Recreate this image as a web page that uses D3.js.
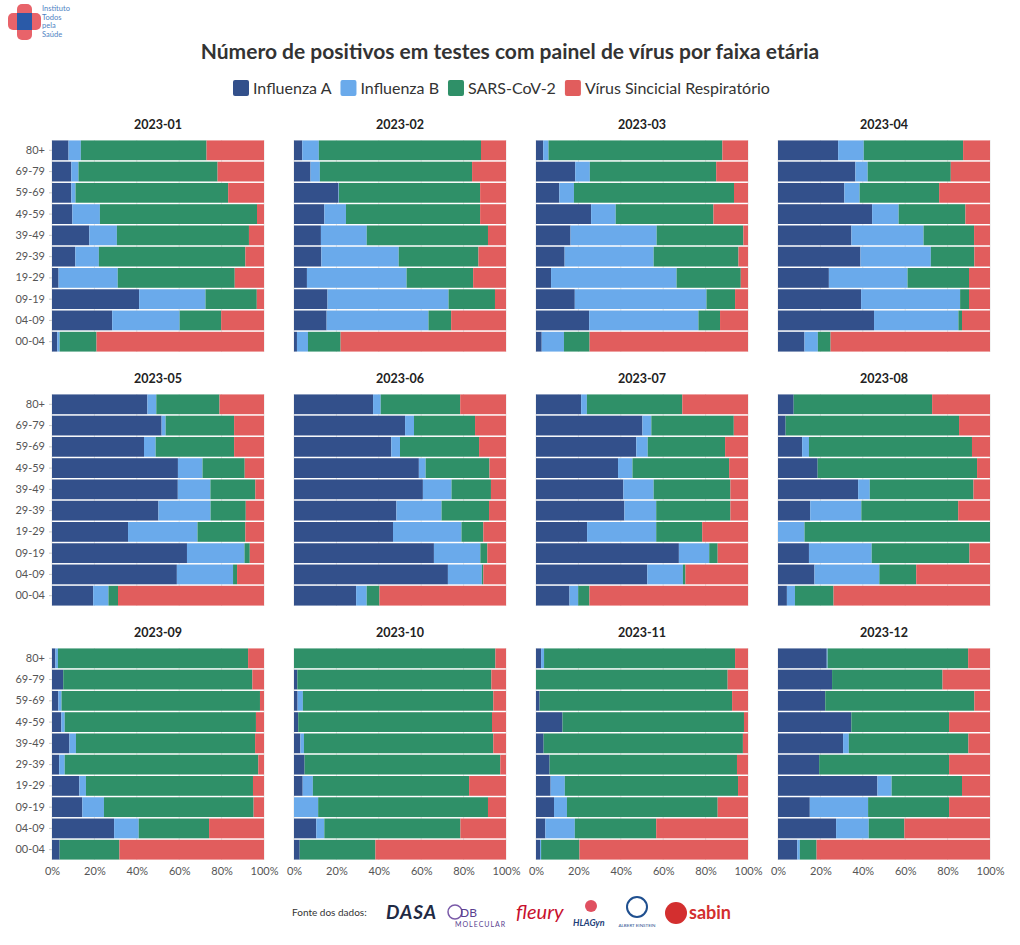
<!DOCTYPE html>
<html><head><meta charset="utf-8">
<script src="https://cdn.jsdelivr.net/npm/d3@7"></script>
<style>
body{margin:0;background:#fff;}
svg{display:block;font-family:Lato,"Noto Sans",sans-serif;}
</style></head><body>
<svg id="c" width="1020" height="945"></svg>
<script>
const months = ["2023-01","2023-02","2023-03","2023-04","2023-05","2023-06","2023-07","2023-08","2023-09","2023-10","2023-11","2023-12"];
const ages = ["80+","69-79","59-69","49-59","39-49","29-39","19-29","09-19","04-09","00-04"];
const seriesNames = ["Influenza A","Influenza B","SARS-CoV-2","Vírus Sincicial Respiratório"];
const colors = ["#33508b","#6aaaeb","#2f9068","#e15d5d"];
const xTicks = [0,20,40,60,80,100];

// percentages per month, ages in order above
const fluA = [
 [7.8,9.1,9.1,9.6,17.6,11.0,3.1,41.1,28.4,2.5],
 [3.9,7.8,21.0,14.3,12.7,12.9,6.1,15.8,15.4,1.4],
 [3.4,18.5,11.0,26.0,16.3,13.5,7.1,18.3,25.1,2.7],
 [28.4,36.5,31.3,44.4,34.6,38.9,24.0,39.2,45.3,12.5],
 [45.0,51.7,43.4,59.4,59.4,50.2,35.9,63.6,58.9,19.4],
 [37.3,52.4,45.9,58.9,60.8,48.3,46.7,66.0,72.6,29.3],
 [21.3,50.2,47.3,38.7,41.2,41.7,24.1,67.4,52.5,15.8],
 [7.4,3.6,11.4,18.7,37.8,15.2,0,14.6,17.2,4.2],
 [1.6,5.3,3.0,4.4,8.2,3.4,12.9,14.3,29.3,3.6],
 [0,1.6,1.7,2.0,3.0,5.0,4.1,0,10.5,2.7],
 [2.4,0,1.7,12.5,3.6,6.4,6.9,8.5,4.4,1.9],
 [23.0,25.5,22.3,34.6,30.7,19.4,46.9,15.0,27.4,9.1]
];
const fluB = [
 [5.8,3.4,2.0,13.0,13.0,11.1,27.9,31.3,31.8,1.1],
 [7.8,4.4,0.2,10.2,21.6,36.5,47.0,57.1,48.1,5.2],
 [2.5,6.9,6.9,11.6,40.6,42.0,59.2,62.1,51.6,10.5],
 [12.1,5.8,7.2,12.5,34.0,33.2,37.1,46.7,39.8,6.3],
 [4.2,1.9,5.5,11.6,15.4,24.6,32.8,27.1,26.5,7.2],
 [3.6,4.2,4.1,3.2,13.5,21.3,32.3,21.9,16.0,5.0],
 [2.7,4.2,5.4,6.8,14.3,15.0,32.6,14.3,16.8,4.1],
 [0,0,3.2,0,5.5,24.1,12.5,29.6,30.6,3.8],
 [1.2,0,1.5,1.6,3.1,2.6,3.1,10.2,11.6,0],
 [0,0,2.5,0,1.7,0,4.8,11.4,3.8,0],
 [1.4,0,0,0,0,0,6.7,6.1,13.9,0.5],
 [0.4,0,0,0,2.7,0,6.7,27.5,15.4,1.2]
];
const sars = [
 [59.3,65.6,72.0,74.1,62.3,69.1,55.2,24.2,19.6,17.4],
 [76.5,71.8,66.6,63.3,57.2,37.6,31.4,21.9,10.7,15.4],
 [82.0,59.6,75.5,46.1,40.9,40.0,30.3,13.5,10.2,12.1],
 [46.9,39.2,37.5,31.5,23.8,20.5,29.0,4.2,1.7,6.0],
 [29.8,32.3,37.0,19.9,21.2,16.6,22.6,2.5,1.9,4.5],
 [37.5,28.8,37.3,30.1,18.6,22.4,10.3,3.3,0.7,6.0],
 [45.0,38.9,36.5,45.6,36.2,35.0,21.7,4.0,1.2,5.3],
 [65.3,81.8,76.9,75.2,48.9,45.7,87.5,46.1,17.4,18.2],
 [89.7,89.2,93.6,90.2,84.5,91.3,78.8,70.6,33.2,28.2],
 [95.0,91.5,89.8,91.4,89.3,92.3,73.7,80.1,64.2,35.7],
 [90.1,90.4,90.8,85.6,94.0,88.4,81.7,71.1,38.4,18.1],
 [66.3,52.1,70.3,46.1,56.4,61.3,33.2,38.2,16.8,7.9]
];
const vsr = [
 [27.1,21.9,16.9,3.3,7.1,8.8,13.8,3.4,20.2,79.0],
 [11.8,16.0,12.2,12.2,8.5,13.0,15.5,5.2,25.9,78.1],
 [12.1,15.0,6.6,16.3,2.2,4.5,3.4,6.1,13.2,74.8],
 [12.7,18.5,24.0,11.6,7.5,7.4,9.9,9.9,13.2,75.2],
 [21.0,14.1,14.1,9.1,4.1,8.6,8.8,6.7,12.7,68.8],
 [21.6,14.6,12.7,7.8,7.1,8.0,10.7,8.8,10.7,59.7],
 [31.0,6.7,10.8,8.9,8.3,8.3,21.6,14.3,29.5,74.8],
 [27.3,14.6,8.5,6.1,7.8,15.0,0,9.7,34.8,73.8],
 [7.5,5.5,1.9,3.8,4.2,2.7,5.2,4.9,25.9,68.2],
 [5.0,6.9,6.0,6.6,6.0,2.7,17.4,8.5,21.5,61.6],
 [6.1,9.6,7.5,1.9,2.4,5.2,4.7,14.3,43.3,79.5],
 [10.3,22.4,7.4,19.3,10.2,19.3,13.2,19.3,40.4,81.8]
];
const series = [fluA, fluB, sars, vsr];

const svg = d3.select("#c");
const colX = [52, 294, 536, 778], rowY = [140, 394, 648];
const pw = 212, ph = 212;

// Logo
const logo = svg.append("g").attr("transform","translate(8,4)");
logo.append("rect").attr("x",9).attr("y",0).attr("width",15).attr("height",36).attr("rx",5).attr("fill","#e8636a");
logo.append("rect").attr("x",0).attr("y",9).attr("width",33).attr("height",17).attr("rx",5).attr("fill","#e8636a");
logo.append("rect").attr("x",9).attr("y",9).attr("width",15).attr("height",17).attr("fill","#2a5aa8");
const lt = logo.append("text").attr("font-size",7.5).attr("fill","#4f83c3");
["Instituto","Todos","pela","Saúde"].forEach((t,i)=>lt.append("tspan").attr("x",34).attr("y",7+i*8.5).text(t));

// Title
svg.append("text").attr("x",510).attr("y",59).attr("text-anchor","middle")
  .attr("font-size",21).attr("font-weight","bold").attr("fill","#333")
  .text("Número de positivos em testes com painel de vírus por faixa etária");

// Legend
const leg = svg.append("g");
let lx = 233;
seriesNames.forEach((n,i)=>{
  const g = leg.append("g").attr("transform",`translate(${lx},80)`);
  g.append("rect").attr("width",16).attr("height",16).attr("rx",2).attr("fill",colors[i]);
  const t = g.append("text").attr("x",20).attr("y",13.5).attr("font-size",16).attr("fill","#333").text(n);
  lx += 20 + t.node().getComputedTextLength() + 9;
});

const x = d3.scaleLinear().domain([0,100]).range([0,pw]);
const y = d3.scaleBand().domain(ages).range([0,ph]).paddingInner(0.07).paddingOuter(0.02);

months.forEach((m,mi)=>{
  const c = mi % 4, r = Math.floor(mi/4);
  const g = svg.append("g").attr("transform",`translate(${colX[c]},${rowY[r]})`);
  g.append("text").attr("x",pw/2).attr("y",-11).attr("text-anchor","middle")
    .attr("font-size",12.5).attr("font-weight","bold").attr("fill","#222").text(m);
  g.selectAll("line.grid").data(xTicks).join("line").attr("class","grid")
    .attr("x1",d=>x(d)).attr("x2",d=>x(d)).attr("y1",0).attr("y2",ph)
    .attr("stroke","#e6e6e6");
  ages.forEach((a,ai)=>{
    const vals = series.map(s=>s[mi][ai]);
    const tot = d3.sum(vals);
    let acc = 0;
    vals.forEach((v,si)=>{
      const p0 = acc/tot*100; acc += v; const p1 = acc/tot*100;
      if (v>0) g.append("rect").attr("x",x(p0)).attr("y",y(a))
        .attr("width",Math.max(0,x(p1)-x(p0))).attr("height",y.bandwidth())
        .attr("fill",colors[si]);
    });
  });
  if (c===0) {
    const ya = g.append("g").call(d3.axisLeft(y).tickSize(3).tickPadding(4));
    ya.select(".domain").remove();
    ya.selectAll("line").attr("stroke","#ccc");
    ya.selectAll("text").attr("font-size",11).attr("fill","#555").attr("font-family","Lato,sans-serif");
  }
  if (r===2) {
    const xa = g.append("g").attr("transform",`translate(0,${ph})`)
      .call(d3.axisBottom(x).tickValues(xTicks).tickFormat(d=>d+"%").tickSize(0).tickPadding(7));
    xa.select(".domain").remove();
    xa.selectAll("text").attr("font-size",11).attr("fill","#555").attr("font-family","Lato,sans-serif");
  }
});

// Footer
const f = svg.append("g");
f.append("text").attr("x",292).attr("y",916).attr("font-size",10).attr("fill","#333").text("Fonte dos dados:");
f.append("text").attr("x",386).attr("y",919).attr("font-size",19).attr("font-style","italic").attr("font-weight","bold").attr("fill","#1f2a44").attr("letter-spacing",1).text("DASA");
f.append("circle").attr("cx",455).attr("cy",912).attr("r",7).attr("fill","none").attr("stroke","#7a5aa8").attr("stroke-width",1.5);
f.append("text").attr("x",460).attr("y",917).attr("font-size",12).attr("fill","#5a3f90").text("DB");
f.append("text").attr("x",455).attr("y",927).attr("font-size",7).attr("fill","#5a3f90").attr("letter-spacing",1).text("MOLECULAR");
f.append("text").attr("x",516).attr("y",919).attr("font-size",20).attr("font-style","italic").attr("fill","#c8102e").text("fleury");
f.append("text").attr("x",573).attr("y",926).attr("font-size",9).attr("font-weight","bold").attr("font-style","italic").attr("fill","#1f3f7a").text("HLAGyn");
f.append("circle").attr("cx",591).attr("cy",906).attr("r",6).attr("fill","#e05060");
f.append("circle").attr("cx",637).attr("cy",907).attr("r",10).attr("fill","none").attr("stroke","#1f4f8f").attr("stroke-width",2);
f.append("text").attr("x",637).attr("y",927).attr("text-anchor","middle").attr("font-size",4.5).attr("fill","#1f4f8f").text("ALBERT EINSTEIN");
f.append("circle").attr("cx",676).attr("cy",913).attr("r",11).attr("fill","#d32f2f");
f.append("text").attr("x",689).attr("y",919).attr("font-size",18).attr("font-weight","bold").attr("fill","#d32f2f").text("sabin");
</script>
</body></html>
